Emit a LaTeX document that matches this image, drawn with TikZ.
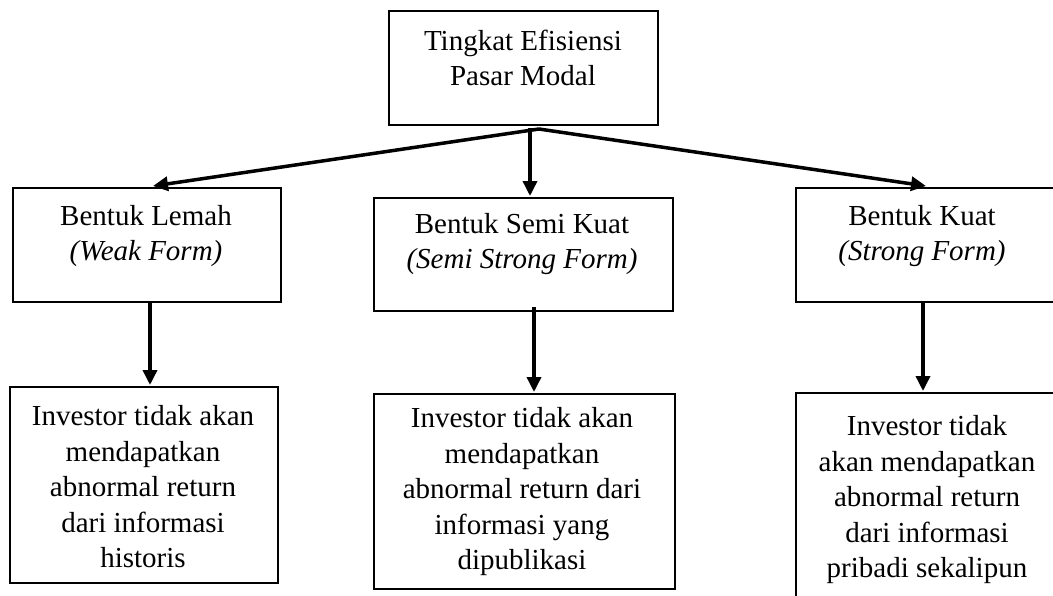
\documentclass[tikz,border=0pt]{standalone}
\usepackage{fontspec}
\setmainfont{Liberation Serif}
\usetikzlibrary{arrows.meta,calc}
\begin{document}
\begin{tikzpicture}[x=1pt,y=-1pt,
  box/.style={draw=black,line width=2pt,rectangle,inner sep=0pt,anchor=north west},
  txt/.style={align=center,inner sep=0pt,font=\fontsize{29}{35.5}\selectfont},
  arr/.style={line width=3.5pt,-{Triangle[length=15pt,width=14pt]}}]
\useasboundingbox (0,0) rectangle (1053,595);
\clip (0,0) rectangle (1053,595);
\fill[white] (0,0) rectangle (1053,595);
% boxes
\node[box,minimum width=269pt,minimum height=114pt] (top) at (388,10) {};
\node[box,minimum width=268pt,minimum height=114pt] (lemah) at (12,187) {};
\node[box,minimum width=299pt,minimum height=113pt] (semi) at (373,197) {};
\node[box,minimum width=270pt,minimum height=114pt] (kuat) at (795,187) {};
\node[box,minimum width=268pt,minimum height=196pt] (inv1) at (9,386) {};
\node[box,minimum width=301pt,minimum height=195pt] (inv2) at (373,393) {};
\node[box,minimum width=270pt,minimum height=230pt] (inv3) at (795,392) {};
% texts
\node[txt] (ttop) at (523,58) {Tingkat Efisiensi\\Pasar Modal};
\node[txt] (tlemah) at (146,236) {Bentuk Lemah\\\textit{(Weak Form)}};
\node[txt] (tsemi) at (522,244) {Bentuk Semi Kuat\\\textit{(Semi Strong Form)}};
\node[txt] (tkuat) at (922,236) {Bentuk Kuat\\\textit{(Strong Form)}};
\node[txt] (tinv1) at (143,487) {Investor tidak akan\\mendapatkan\\abnormal return\\dari informasi\\historis};
\node[txt] (tinv2) at (522,492) {Investor tidak akan\\mendapatkan\\abnormal return dari\\informasi yang\\dipublikasi};
\node[txt] (tinv3) at (927,500) {Investor tidak\\akan mendapatkan\\abnormal return\\dari informasi\\pribadi sekalipun};
% connectors
\coordinate (j) at ($(top.south)+(15.5,3)$);
\draw[arr] (j) -- ($(lemah.north)+(6,-1)$);
\draw[arr] (j) -- ($(kuat.north)+(-5,-1)$);
\draw[arr] ($(top.south)+(6.5,2)$) -- ($(semi.north)+(6.5,-1)$);
\draw[arr] ($(lemah.south)+(3,0)$) -- ($(inv1.north)+(6,-1)$);
\draw[arr] ($(semi.south)+(10.5,-5)$) -- ($(inv2.north)+(9.5,-1)$);
\draw[arr] ($(kuat.south)+(-8,0)$) -- ($(inv3.north)+(-8,-1)$);
\end{tikzpicture}
\end{document}
